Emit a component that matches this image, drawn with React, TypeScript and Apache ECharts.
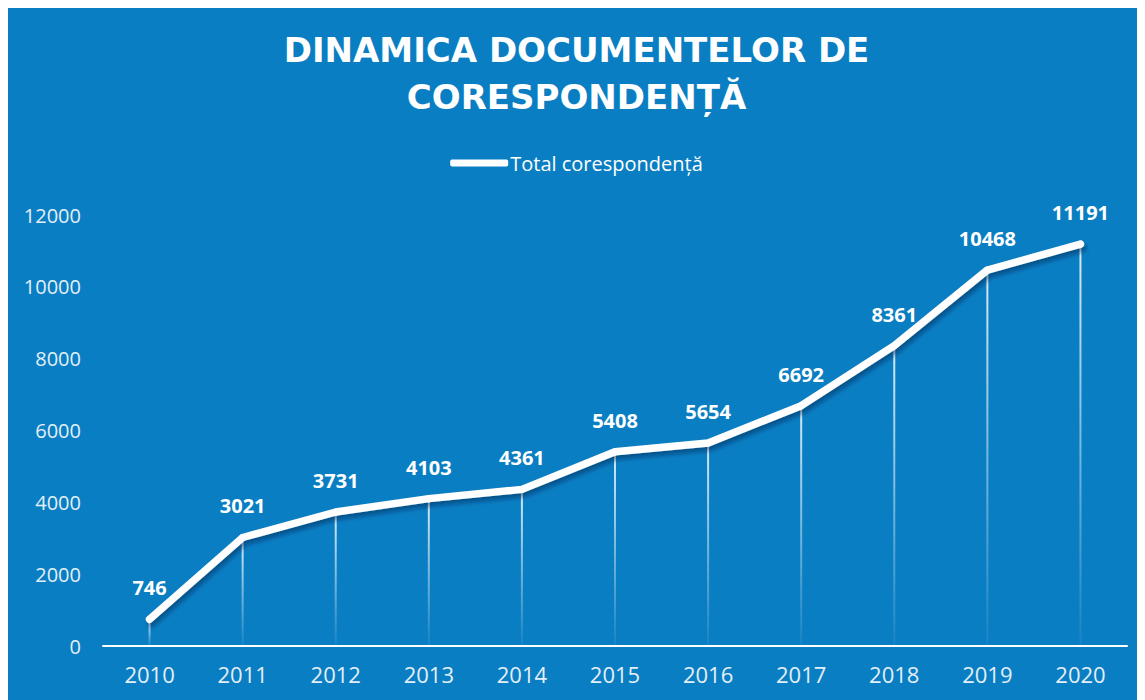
import React, { useEffect, useRef } from "react";
import * as echarts from "echarts";

const years = ["2010", "2011", "2012", "2013", "2014", "2015", "2016", "2017", "2018", "2019", "2020"];
const totals = [746, 3021, 3731, 4103, 4361, 5408, 5654, 6692, 8361, 10468, 11191];
const seriesName = "Total corespondență";
const titleLines = ["DINAMICA DOCUMENTELOR DE", "CORESPONDENȚĂ"];

export default function App() {
  const ref = useRef<HTMLDivElement>(null);
  useEffect(() => {
    document.body.style.overflow = "hidden";
    const chart = echarts.init(ref.current!, undefined, { renderer: "svg" });
    chart.setOption({
      animation: false,
      backgroundColor: "#0A7EC2",
      title: {
        text: titleLines.join("\n"),
        left: "center",
        top: 13,
        textStyle: {
          color: "#ffffff",
          fontFamily: "DejaVu Sans",
          fontWeight: "bold",
          fontSize: 34,
          lineHeight: 47,
        },
      },
      legend: {
        top: 140,
        left: "center",
        data: [{ name: seriesName, icon: "roundRect" }],
        itemWidth: 58,
        itemHeight: 7,
        itemGap: 4,
        textStyle: { color: "#ffffff", fontFamily: "Open Sans", fontSize: 20, padding: [0, 0, 0, -3] },
      },
      grid: { left: 95, right: 18, top: 207, bottom: 54 },
      xAxis: {
        type: "category",
        data: years,
        boundaryGap: true,
        axisLine: { lineStyle: { color: "#ffffff", width: 2 } },
        axisTick: { show: false },
        axisLabel: {
          color: "#e3eff8",
          fontFamily: "Open Sans",
          fontSize: 22,
          margin: 17,
        },
      },
      yAxis: {
        type: "value",
        min: 0,
        max: 12000,
        interval: 2000,
        axisLine: { show: false },
        axisTick: { show: false },
        splitLine: { show: false },
        axisLabel: {
          color: "#e3eff8",
          fontFamily: "Open Sans",
          fontSize: 20,
          margin: 22,
          formatter: (v: number) => String(v),
        },
      },
      series: [
        {
          type: "bar",
          name: "drop",
          data: totals,
          barWidth: 2,
          silent: true,
          z: 1,
          itemStyle: {
            color: new echarts.graphic.LinearGradient(0, 0, 0, 1, [
              { offset: 0, color: "rgba(255,255,255,0.85)" },
              { offset: 1, color: "rgba(255,255,255,0.05)" },
            ]),
          },
        },
        {
          type: "line",
          name: seriesName,
          data: totals,
          z: 3,
          symbol: "circle",
          symbolSize: 7,
          showSymbol: true,
          color: "#ffffff",
          itemStyle: { color: "#ffffff" },
          lineStyle: {
            color: "#ffffff",
            width: 7.5,
            cap: "round",
            join: "round",
            shadowColor: "rgba(0,30,70,0.45)",
            shadowBlur: 4,
            shadowOffsetX: 2,
            shadowOffsetY: 4,
          },
          label: {
            show: true,
            position: "top",
            distance: 18,
            color: "#ffffff",
            fontFamily: "Open Sans",
            fontWeight: "bold",
            fontSize: 20,
          },
        },
      ],
    });
    return () => chart.dispose();
  }, []);
  return <div ref={ref} style={{ width: 1137, height: 692 }} />;
}
